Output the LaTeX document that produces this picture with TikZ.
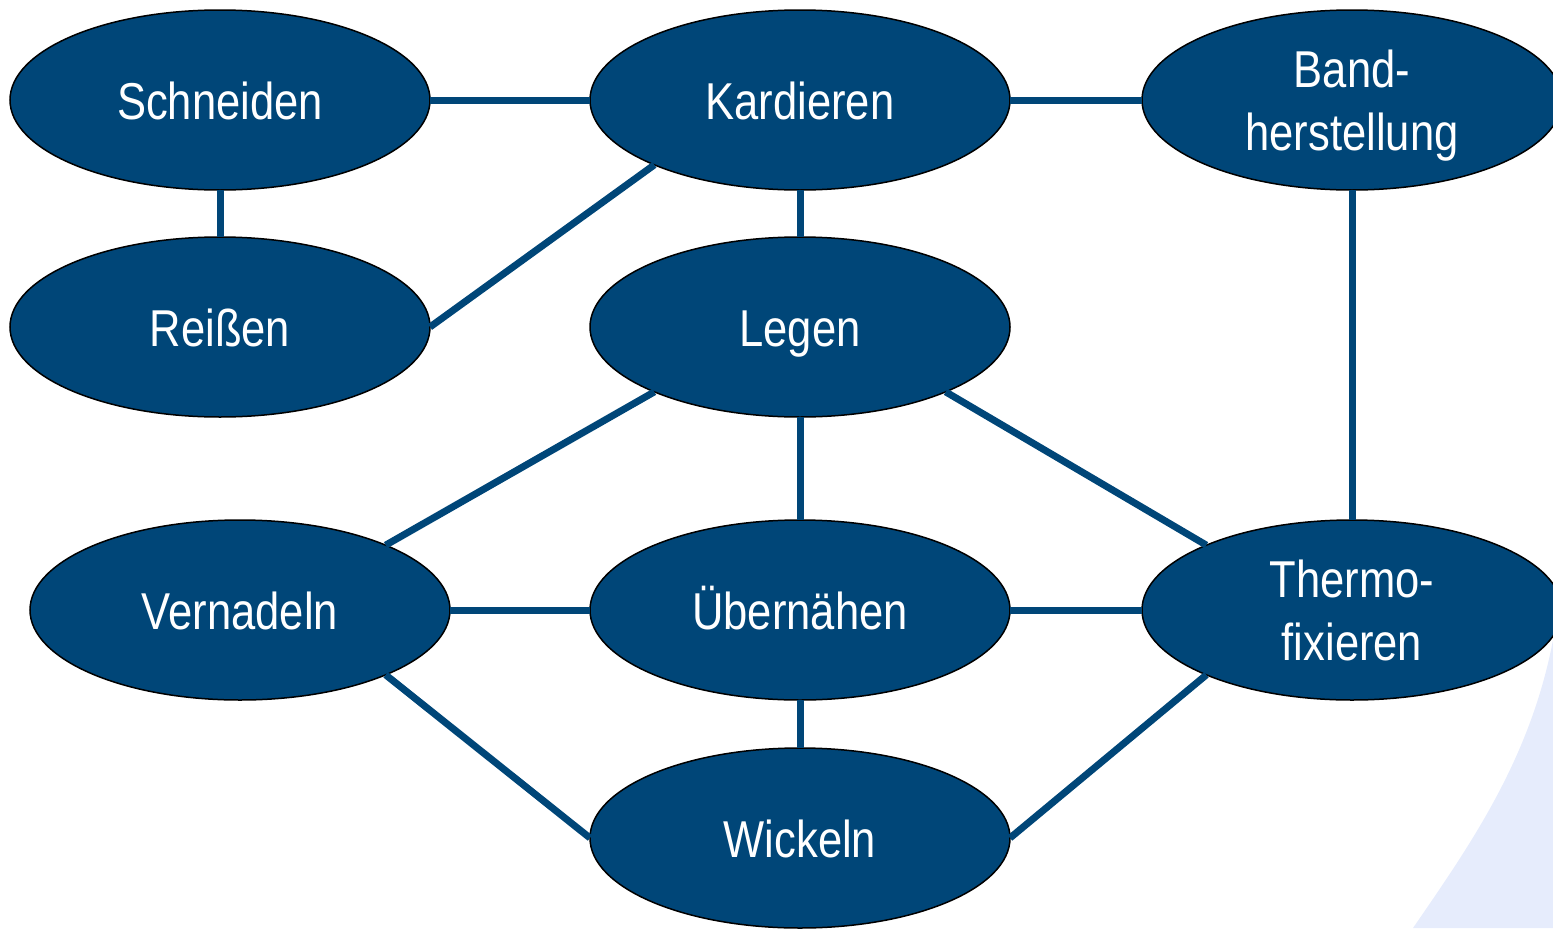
\documentclass[tikz,border=0pt]{standalone}
\usepackage{fontspec}
\setmainfont[FakeStretch=0.84]{Liberation Sans}
\usetikzlibrary{positioning, shapes.geometric}
\definecolor{procblue}{HTML}{004678}
\definecolor{bgblue}{HTML}{E6ECFC}

\begin{document}
\begin{tikzpicture}[
    node distance=9.4mm and 32mm,
    proc/.style={ellipse, draw=black, line width=0.3mm, fill=procblue, text=white, align=center, minimum width=84mm, minimum height=36mm, inner sep=0pt, outer sep=0pt, text height=22pt, text depth=0pt, font=\fontsize{29.5}{36}\selectfont},
    proctwo/.style={proc, text height=58pt},
    link/.style={draw=procblue, line width=1.4mm}
]
\clip (0,0) rectangle (310.6mm,-185.6mm);
% light background shape in the corner
\fill[bgblue] (310.6mm,-128mm) .. controls (306mm,-152mm) and (294mm,-169mm) .. (282.6mm,-185.6mm) -- (310.6mm,-185.6mm) -- cycle;

\node[proc] (schneiden) at (44mm,-20mm) {Schneiden};
\node[proc, right=32mm of schneiden] (kardieren) {Kardieren};
\node[proctwo, right=26.4mm of kardieren] (band) {Band-\\herstellung};
\node[proc, below=of schneiden] (reissen) {Reißen};
\node[proc, below=of kardieren] (legen) {Legen};
\node[proc, below=20.6mm of legen] (uebernaehen) {Übernähen};
\node[proc, left=28mm of uebernaehen] (vernadeln) {Vernadeln};
\node[proctwo, right=26.4mm of uebernaehen] (thermo) {Thermo-\\fixieren};
\node[proc, below=9.6mm of uebernaehen] (wickeln) {Wickeln};

\draw[link] (schneiden) -- (kardieren);
\draw[link] (kardieren) -- (band);
\draw[link] (schneiden) -- (reissen);
\draw[link] (kardieren) -- (legen);
\draw[link] (kardieren.204) -- (reissen.east);
\draw[link] (band) -- (thermo);
\draw[link] (legen.204) -- (vernadeln.24);
\draw[link] (legen) -- (uebernaehen);
\draw[link] (legen.-24) -- (thermo.156);
\draw[link] (vernadeln) -- (uebernaehen);
\draw[link] (uebernaehen) -- (thermo);
\draw[link] (uebernaehen) -- (wickeln);
\draw[link] (vernadeln.-24) -- (wickeln.west);
\draw[link] (thermo.204) -- (wickeln.east);
\end{tikzpicture}
\end{document}
